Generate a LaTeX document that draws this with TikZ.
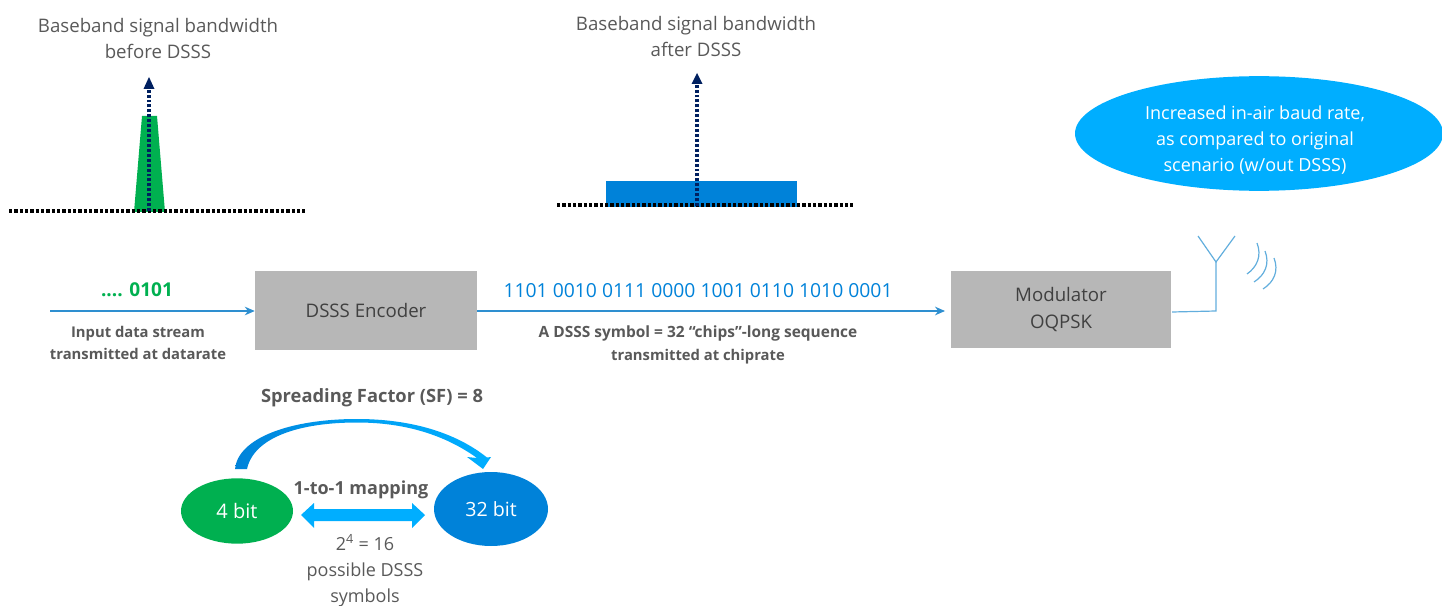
\documentclass[tikz,border=0pt]{standalone}
\usepackage{fontspec}
\setmainfont{Open Sans}
\usetikzlibrary{arrows.meta,shapes.geometric}
\definecolor{txtgray}{HTML}{595959}
\definecolor{boxgray}{HTML}{B7B7B7}
\definecolor{sgreen}{HTML}{00B050}
\definecolor{sblue}{HTML}{0082D9}
\definecolor{lblue}{HTML}{00AEFF}
\definecolor{navy}{HTML}{002060}
\definecolor{linkblue}{HTML}{2E8FD0}
\definecolor{antblue}{HTML}{62AEDD}
\tikzset{
  x=0.75pt,y=-0.75pt,
  txt/.style={text=txtgray,font=\fontsize{13.5}{19.5}\selectfont,align=center,inner sep=0},
  capt/.style={text=txtgray,font=\fontsize{14}{19.5}\selectfont,align=center,inner sep=0},
  boldtxt/.style={text=txtgray,font=\fontsize{11.1}{16.5}\selectfont\bfseries,align=center,inner sep=0},
  blockbox/.style={fill=boxgray,draw=none,minimum width=0,inner sep=0,text=black!75,font=\fontsize{14}{20}\selectfont,align=center},
  baseline dots/.style={black,line width=2.6pt,dash pattern=on 2.4pt off 1.6pt},
  axis dots/.style={navy,line width=2.4pt,dash pattern=on 2.2pt off 1.5pt},
  link/.style={linkblue,line width=0.9pt,-{Stealth[length=7.5pt,width=6.5pt]}},
  ant/.style={antblue,line width=0.9pt},
}
\begin{document}
\begin{tikzpicture}
\useasboundingbox (0,0) rectangle (1442,606);
\clip (0,0) rectangle (1442,606);

% captions
\node[capt] (capA) at (158,39) {Baseband signal bandwidth\\before DSSS};
\node[capt] (capB) at (696,37) {Baseband signal bandwidth\\after DSSS};

% spectrum before
\fill[sgreen] (134,212) -- (142,116) -- (157,116) -- (165,212) -- cycle;
\coordinate (baseAl) at (9,211);
\coordinate (baseAr) at (305,211);
\coordinate (axisAb) at (149,211);
\coordinate (axisAt) at (149,89);
\coordinate (tipAt) at (149,77);
\draw[baseline dots] (baseAl) -- (baseAr);
\draw[axis dots] (axisAb) -- (axisAt);
\fill[navy] (tipAt) -- (154.5,89) -- (143.5,89) -- cycle;

% spectrum after
\fill[sblue] (605.5,181) rectangle (797,207);
\coordinate (baseBl) at (557,205);
\coordinate (baseBr) at (853,205);
\coordinate (axisBb) at (697,206);
\coordinate (axisBt) at (697,84);
\coordinate (tipBt) at (697,73);
\draw[baseline dots] (baseBl) -- (baseBr);
\draw[axis dots] (axisBb) -- (axisBt);
\fill[navy] (tipBt) -- (702.5,84) -- (691.5,84) -- cycle;

% callout
\node[ellipse,draw=none,fill=lblue,minimum width=276pt,minimum height=86pt,inner sep=0] (callout) at (1259,133.5) {};
\node[txt,text=white] (calloutTxt) at (1255,140) {Increased in-air baud rate,\\as compared to original\\scenario (w/out DSSS)};

% blocks
\node[blockbox,minimum width=166.5pt,minimum height=59.5pt] (enc) at (366,310.5) {DSSS Encoder};
\node[blockbox,minimum width=165pt,minimum height=58pt] (mod) at (1061,309.5) {Modulator\\OQPSK};

% stream
\coordinate (inStart) at (50,311);
\draw[link] (inStart) -- (enc.west |- inStart);
\draw[link] (enc.east |- inStart) -- (945,311) coordinate (modIn);
\node[text=sgreen,font=\fontsize{14.3}{16}\selectfont\bfseries,inner sep=0] (inBits) at (137,290) {.... 0101};
\node[boldtxt] (inLbl) at (138,343) {Input data stream\\transmitted at datarate};
\node[text=sblue,font=\fontsize{14.5}{16}\selectfont,inner sep=0] (chips) at (698,291) {1101 0010 0111 0000 1001 0110 1010 0001};
\node[boldtxt,font=\fontsize{11.6}{17}\selectfont\bfseries] (chipLbl) at (698,345) {A DSSS symbol = 32 “chips”-long sequence\\{\fontsize{11.1}{17}\selectfont transmitted at chiprate}};

% antenna
\coordinate (antS) at (1172,312);
\coordinate (antC) at (1216,311);
\coordinate (antJ) at (1216,262);
\coordinate (antL) at (1198,236);
\coordinate (antR) at (1235,236);
\draw[ant] (antS) -- (antC) -- (antJ);
\draw[ant] (antL) -- (antJ) -- (antR);
\draw[ant] (1257,243) .. controls (1262,256) and (1257,267) .. (1247,274);
\draw[ant] (1265,251) .. controls (1270,264) and (1265,275) .. (1254,282);
\draw[ant] (1274,258) .. controls (1279,271) and (1274,282) .. (1263,289);

% mapping
\node[boldtxt,font=\fontsize{13.75}{16}\selectfont\bfseries] (sf) at (372,398) {Spreading Factor (SF) = 8};
\node[ellipse,fill=sgreen,minimum width=84pt,minimum height=49pt,inner sep=0,text=white,font=\fontsize{15}{16}\selectfont] (bitA) at (237,511) {4 bit};
\node[ellipse,fill=sblue,minimum width=85.5pt,minimum height=55.5pt,inner sep=0,text=white,font=\fontsize{14.7}{16}\selectfont] (bitB) at (491,509) {32 bit};
\node[boldtxt,font=\fontsize{13.5}{16}\selectfont\bfseries] (map) at (361,490) {1-to-1 mapping};
\fill[lblue] (301,515) -- (314,503) -- (314,509) -- (412,509) -- (412,503) -- (425,515) -- (412,528) -- (412,521) -- (314,521) -- (314,528) -- cycle;
\node[txt] (poss) at (365,571) {2\textsuperscript{4} = 16\\possible DSSS\\symbols};
\shade[left color=sblue,right color=lblue,middle color=lblue!70!sblue]
  (235,469) .. controls (238,438) and (290,419) .. (357,419)
  .. controls (410,419) and (455,432) .. (487,457.5)
  -- (491,457) -- (483,469) -- (467,457) -- (477,458)
  .. controls (445,435) and (405,422.5) .. (357,422.5)
  .. controls (300,422.5) and (254,437) .. (247,469) -- cycle;
\end{tikzpicture}
\end{document}
